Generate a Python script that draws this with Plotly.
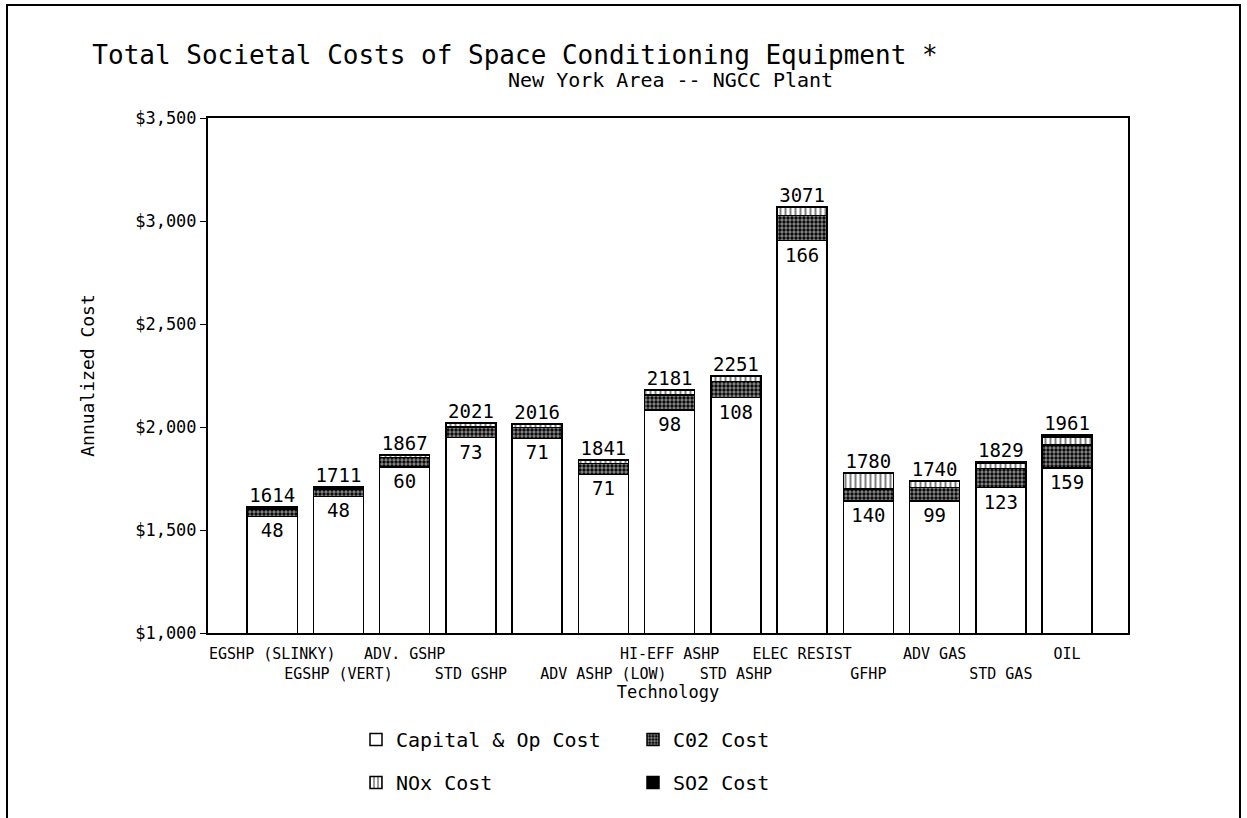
import plotly.graph_objects as go

categories = ["EGSHP (SLINKY)", "EGSHP (VERT)", "ADV. GSHP", "STD GSHP", "",
              "ADV ASHP (LOW)", "HI-EFF ASHP", "STD ASHP", "ELEC RESIST",
              "GFHP", "ADV GAS", "STD GAS", "OIL"]
label_row = [1, 2, 1, 2, 1, 2, 1, 2, 1, 2, 1, 2, 1]
totals = [1614, 1711, 1867, 2021, 2016, 1841, 2181, 2251, 3071, 1780, 1740, 1829, 1961]
env_totals = [48, 48, 60, 73, 71, 71, 98, 108, 166, 140, 99, 123, 159]
co2_cost = [35, 35, 44, 53, 52, 52, 72, 79, 122, 60, 66, 92, 110]
nox_cost = [11, 11, 14, 17, 16, 16, 22, 25, 38, 75, 30, 28, 40]
so2_cost = [2, 2, 2, 3, 3, 3, 4, 4, 6, 5, 3, 3, 9]
y_ticks = [1000, 1500, 2000, 2500, 3000, 3500]
y_ticklabels = ["$1,000", "$1,500", "$2,000", "$2,500", "$3,000", "$3,500"]
capital_cost = [t - e for t, e in zip(totals, env_totals)]

x = list(range(len(categories)))
ticktext = [c if r == 1 else "<br>" + c for c, r in zip(categories, label_row)]

FONT = "DejaVu Sans Mono"
line = dict(color="black", width=1.5)

W, H = 1247, 818
L, T = 208, 118
PW, PH = 920, 515


def px(xp):
    return (xp - L) / PW


def py(yp):
    return (T + PH - yp) / PH


fig = go.Figure()
fig.add_trace(go.Bar(
    x=x, y=capital_cost, name="Capital & Op Cost", legend="legend", legendgroup="a",
    marker=dict(color="white", line=line), width=0.755,
    text=[str(v) for v in env_totals], textposition="inside", insidetextanchor="end",
    textangle=0, insidetextfont=dict(family=FONT, size=19, color="black")))
fig.add_trace(go.Bar(
    x=x, y=co2_cost, name="C02 Cost", legend="legend2", legendgroup="b",
    marker=dict(color="black", line=line,
                pattern=dict(shape=".", fgcolor="white", bgcolor="black", size=4, solidity=0.55)),
    width=0.755))
fig.add_trace(go.Bar(
    x=x, y=nox_cost, name="NOx Cost", legend="legend", legendgroup="c",
    marker=dict(color="white", line=line,
                pattern=dict(shape="|", fgcolor="black", bgcolor="white", size=5, solidity=0.4)),
    width=0.755))
fig.add_trace(go.Bar(
    x=x, y=so2_cost, name="SO2 Cost", legend="legend2", legendgroup="d",
    marker=dict(color="black", line=line), width=0.755))
fig.add_trace(go.Scatter(
    x=x, y=totals, mode="text", text=[str(v) for v in totals], textposition="top center",
    textfont=dict(family=FONT, size=19, color="black"), showlegend=False, cliponaxis=False,
    hoverinfo="skip"))

fig.update_layout(
    width=W, height=H, barmode="stack", bargap=0.25,
    paper_bgcolor="white", plot_bgcolor="white",
    margin=dict(l=L, r=W - L - PW, t=T, b=H - T - PH, pad=0),
    font=dict(family=FONT, color="black"),
    title=dict(text="Total Societal Costs of Space Conditioning Equipment *",
               x=515 / W, xanchor="center", y=1 - 55 / H, yanchor="middle",
               font=dict(family=FONT, size=26, color="black")),
    annotations=[dict(text="New York Area -- NGCC Plant", xref="paper", yref="paper",
                      x=px(670), y=py(80), xanchor="center", yanchor="middle",
                      showarrow=False, font=dict(family=FONT, size=20, color="black"))],
    xaxis=dict(tickmode="array", tickvals=x, ticktext=ticktext, range=[-0.97, 12.92],
               tickangle=0, ticklabelstandoff=6,
               showline=True, linecolor="black", linewidth=2, mirror=True, showgrid=False,
               ticks="", tickfont=dict(family=FONT, size=15, color="black"),
               title=dict(text="Technology", standoff=4, font=dict(family=FONT, size=17))),
    yaxis=dict(range=[1000, 3500], tickmode="array", tickvals=y_ticks, ticktext=y_ticklabels,
               showline=True, linecolor="black", linewidth=2,
               mirror=True, showgrid=False, ticks="outside", ticklen=6, tickcolor="black",
               tickfont=dict(family=FONT, size=17, color="black"),
               title=dict(text="Annualized Cost", standoff=36, font=dict(family=FONT, size=18))),
    legend=dict(x=px(356), y=py(720), xanchor="left", yanchor="top",
                orientation="v", traceorder="grouped", tracegroupgap=14,
                font=dict(family=FONT, size=20, color="black"), bgcolor="rgba(0,0,0,0)"),
    legend2=dict(x=px(633), y=py(720), xanchor="left", yanchor="top",
                 orientation="v", traceorder="grouped", tracegroupgap=14,
                 font=dict(family=FONT, size=20, color="black"), bgcolor="rgba(0,0,0,0)"),
    shapes=[dict(type="rect", xref="paper", yref="paper",
                 x0=px(7), x1=px(1240), y0=py(840), y1=py(5),
                 line=dict(color="black", width=2), fillcolor="rgba(0,0,0,0)", layer="above")],
)

fig.write_html("out.html", config={"displayModeBar": False},
               post_script="document.body.style.margin='0';")
